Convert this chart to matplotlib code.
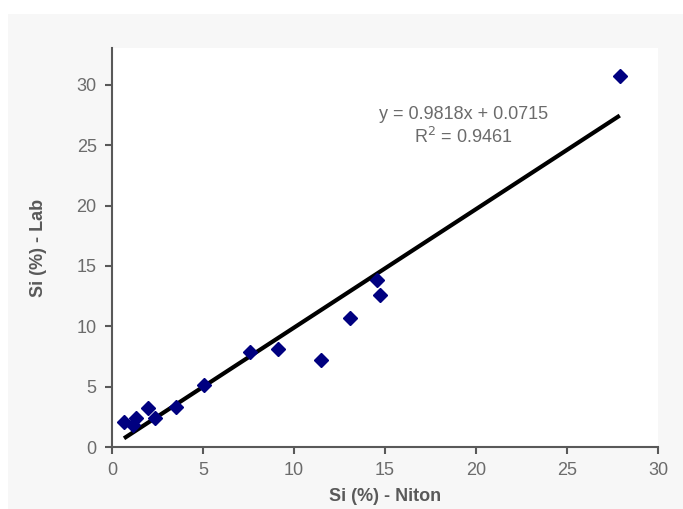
import numpy as np
import matplotlib as mpl
mpl.use('Agg')
import matplotlib.pyplot as plt
from matplotlib.patches import Rectangle

# Si (%) measured by Niton vs. lab
niton = [0.66, 1.16, 1.32, 2.0, 2.36, 3.52, 5.07, 7.58, 9.14, 11.47, 13.08, 14.54, 14.73, 27.9]
lab = [2.1, 1.8, 2.4, 3.2, 2.4, 3.34, 5.13, 7.9, 8.12, 7.2, 10.7, 13.8, 12.6, 30.7]

slope = 0.9818
intercept = 0.0715
r2 = 0.9461

x_ticks = [0, 5, 10, 15, 20, 25, 30]
y_ticks = [0, 5, 10, 15, 20, 25, 30]

plt.rcParams['font.family'] = ['Liberation Sans', 'DejaVu Sans']

fig = plt.figure(figsize=(6.83, 5.09), dpi=100, facecolor='white')
bg = Rectangle((8 / 683, 0), 1, 1 - 14 / 509, transform=fig.transFigure,
               facecolor='#f7f7f7', edgecolor='none', zorder=-10)
fig.add_artist(bg)
ax = fig.add_axes([112 / 683, 1 - 447 / 509, (658 - 112) / 683, (447 - 48) / 509])
ax.set_zorder(1)
ax.set_facecolor('white')

ax.plot(niton, lab, linestyle='none', marker='D', markersize=7,
        color='#000080', zorder=3)

fit_x = np.array([min(niton), max(niton)])
ax.plot(fit_x, slope * fit_x + intercept, color='black', linewidth=3, zorder=2,
        solid_capstyle='butt')

ax.text(19.3, 27.55, "y = {:.4f}x + {:.4f}".format(slope, intercept),
        ha='center', va='center', fontsize=13, color='#6b6b6b')
ax.text(19.3, 25.65, "R$^2$ = {:.4f}".format(r2),
        ha='center', va='center', fontsize=13, color='#6b6b6b')

ax.set_xlim(0, 30)
ax.set_ylim(0, 33.06)
ax.set_xticks(x_ticks)
ax.set_yticks(y_ticks)

for side in ['top', 'right']:
    ax.spines[side].set_visible(False)
for side in ['left', 'bottom']:
    ax.spines[side].set_color('#595959')
    ax.spines[side].set_linewidth(1.5)

ax.tick_params(axis='both', direction='out', length=5, width=1.5, color='#595959',
               labelsize=13, labelcolor='#6b6b6b', pad=6)

ax.set_xlabel("Si (%) - Niton", fontsize=13, fontweight='bold', color='#595959', labelpad=6)
ax.set_ylabel("Si (%) - Lab", fontsize=13, fontweight='bold', color='#595959', labelpad=21)

plt.savefig("out.png", dpi=100, facecolor=fig.get_facecolor())
